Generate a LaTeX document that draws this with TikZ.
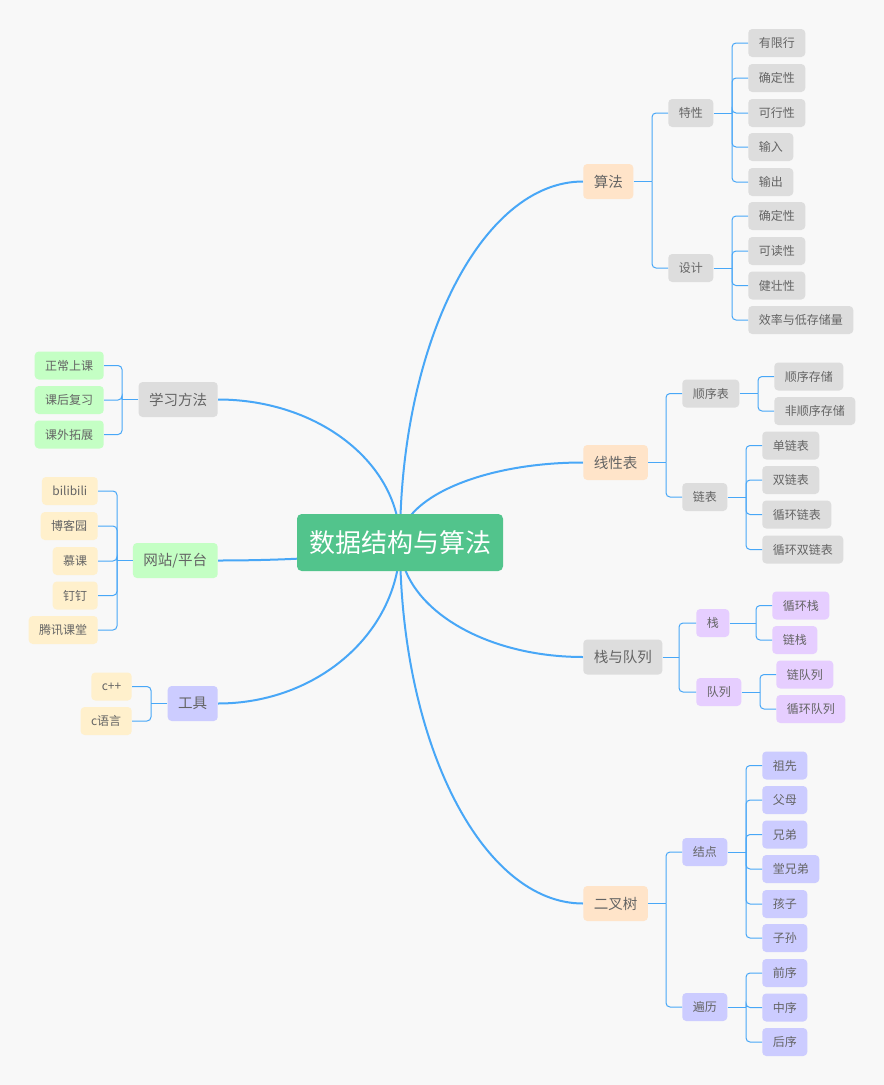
\documentclass[tikz,border=0pt]{standalone}
\usepackage{fontspec}
\setmainfont{Noto Sans CJK SC}
\definecolor{bgc}{RGB}{248,248,248}
\definecolor{rootg}{RGB}{82,196,140}
\definecolor{peach}{RGB}{255,228,201}
\definecolor{greyf}{RGB}{221,221,221}
\definecolor{lgreen}{RGB}{196,255,196}
\definecolor{cream}{RGB}{255,240,204}
\definecolor{lav}{RGB}{204,204,255}
\definecolor{purp}{RGB}{230,206,255}
\definecolor{lineb}{RGB}{72,167,247}
\definecolor{txt}{RGB}{100,100,100}
\pgfdeclarelayer{bglayer}
\pgfdeclarelayer{edges}
\pgfsetlayers{bglayer,edges,main}
\begin{document}
\begin{tikzpicture}[x=0.75pt,y=-0.75pt,
  base/.style={rectangle, rounded corners=3pt, inner xsep=7.875pt, inner ysep=0pt,
    text=txt, font=\fontsize{9}{10}\selectfont, minimum height=21pt},
  lone/.style={base, font=\fontsize{10.9}{12}\selectfont, minimum height=26.25pt},
  rootbox/.style={rectangle, rounded corners=3.5pt, fill=rootg, text=white,
    font=\fontsize{19.5}{22}\selectfont, inner xsep=9pt, inner ysep=0pt, minimum height=42.75pt},
  gbox/.style={fill=greyf}, pbox/.style={fill=peach}, lgbox/.style={fill=lgreen},
  cbox/.style={fill=cream}, lvbox/.style={fill=lav}, pubox/.style={fill=purp},
  main/.style={draw=lineb, line width=1.5pt},
  twig/.style={draw=lineb, line width=0.75pt, rounded corners=3pt}]
\begin{pgfonlayer}{bglayer}
\fill[bgc] (0,0) rectangle (884,1085);
\end{pgfonlayer}
\useasboundingbox (0,0) rectangle (884,1085);

% root
\node[rootbox] (root) at (400,542.5) {数据结构与算法};

% level 1
\node[lone, pbox, anchor=west] (suanfa) at (583,181.5) {算法};
\node[lone, pbox, anchor=west] (xianxing) at (583,462.5) {线性表};
\node[lone, gbox, anchor=west] (zhandui) at (583,657) {栈与队列};
\node[lone, pbox, anchor=west] (erchashu) at (583,903.5) {二叉树};
\node[lone, gbox, anchor=east] (xuexi) at (218,399.5) {学习方法};
\node[lone, lgbox, anchor=east] (wangzhan) at (218,560.5) {网站/平台};
\node[lone, lvbox, anchor=east] (gongju) at (218,703.5) {工具};

% main curves
\begin{pgfonlayer}{edges}
\draw[main] (root.center) .. controls (400,343.1) and (481.9,181.5) .. (suanfa.west);
\draw[main] (root.center) .. controls (400,498.3) and (481.9,462.5) .. (xianxing.west);
\draw[main] (root.center) .. controls (400,605.7) and (481.9,657) .. (zhandui.west);
\draw[main] (root.center) .. controls (400,741.9) and (481.9,903.5) .. (erchashu.west);
\draw[main] (root.center) .. controls (400,463.5) and (318.5,399.5) .. (xuexi.east);
\draw[main] (root.center) .. controls (400,552.4) and (318.5,560.5) .. (wangzhan.east);
\draw[main] (root.center) .. controls (400,631.4) and (318.5,703.5) .. (gongju.east);
\end{pgfonlayer}

% ---- 算法
\node[base, gbox, anchor=west] (texing) at (668,113) {特性};
\node[base, gbox, anchor=west] (sheji) at (668,268) {设计};
\node[base, gbox, anchor=west] (a1) at (748,43) {有限行};
\node[base, gbox, anchor=west] (a2) at (748,78) {确定性};
\node[base, gbox, anchor=west] (a3) at (748,113) {可行性};
\node[base, gbox, anchor=west] (a4) at (748,147) {输入};
\node[base, gbox, anchor=west] (a5) at (748,182) {输出};
\node[base, gbox, anchor=west] (b1) at (748,216) {确定性};
\node[base, gbox, anchor=west] (b2) at (748,251) {可读性};
\node[base, gbox, anchor=west] (b3) at (748,285.5) {健壮性};
\node[base, gbox, anchor=west] (b4) at (748,320) {效率与低存储量};
\coordinate (jS) at (652,181.5);
\coordinate (jT) at (732,113);
\coordinate (jD) at (732,268);
\draw[twig] (suanfa.east) -- (jS);
\foreach \n in {texing,sheji} \draw[twig] (jS) |- (\n.west);
\draw[twig] (texing.east) -- (jT);
\foreach \n in {a1,a2,a3,a4,a5} \draw[twig] (jT) |- (\n.west);
\draw[twig] (sheji.east) -- (jD);
\foreach \n in {b1,b2,b3,b4} \draw[twig] (jD) |- (\n.west);

% ---- 线性表
\node[base, gbox, anchor=west] (shunxu) at (682,393.5) {顺序表};
\node[base, gbox, anchor=west] (lianbiao) at (682,497) {链表};
\node[base, gbox, anchor=west] (c1) at (774,376.5) {顺序存储};
\node[base, gbox, anchor=west] (c2) at (774,411) {非顺序存储};
\node[base, gbox, anchor=west] (d1) at (762,445.5) {单链表};
\node[base, gbox, anchor=west] (d2) at (762,480) {双链表};
\node[base, gbox, anchor=west] (d3) at (762,514.5) {循环链表};
\node[base, gbox, anchor=west] (d4) at (762,549.5) {循环双链表};
\coordinate (jX) at (666,462.5);
\coordinate (jSX) at (758,393.5);
\coordinate (jLB) at (746,497);
\draw[twig] (xianxing.east) -- (jX);
\foreach \n in {shunxu,lianbiao} \draw[twig] (jX) |- (\n.west);
\draw[twig] (shunxu.east) -- (jSX);
\foreach \n in {c1,c2} \draw[twig] (jSX) |- (\n.west);
\draw[twig] (lianbiao.east) -- (jLB);
\foreach \n in {d1,d2,d3,d4} \draw[twig] (jLB) |- (\n.west);

% ---- 栈与队列
\node[base, pubox, anchor=west] (zhan) at (696,623) {栈};
\node[base, pubox, anchor=west] (duilie) at (696,692) {队列};
\node[base, pubox, anchor=west] (e1) at (772,605.5) {循环栈};
\node[base, pubox, anchor=west] (e2) at (772,640) {链栈};
\node[base, pubox, anchor=west] (f1) at (776,674.5) {链队列};
\node[base, pubox, anchor=west] (f2) at (776,709) {循环队列};
\coordinate (jZD) at (679,657);
\coordinate (jZ) at (756,623);
\coordinate (jDL) at (760,692);
\draw[twig] (zhandui.east) -- (jZD);
\foreach \n in {zhan,duilie} \draw[twig] (jZD) |- (\n.west);
\draw[twig] (zhan.east) -- (jZ);
\foreach \n in {e1,e2} \draw[twig] (jZ) |- (\n.west);
\draw[twig] (duilie.east) -- (jDL);
\foreach \n in {f1,f2} \draw[twig] (jDL) |- (\n.west);

% ---- 二叉树
\node[base, lvbox, anchor=west] (jiedian) at (682,852) {结点};
\node[base, lvbox, anchor=west] (bianli) at (682,1007) {遍历};
\node[base, lvbox, anchor=west] (g1) at (762,765.5) {祖先};
\node[base, lvbox, anchor=west] (g2) at (762,800) {父母};
\node[base, lvbox, anchor=west] (g3) at (762,834.5) {兄弟};
\node[base, lvbox, anchor=west] (g4) at (762,869) {堂兄弟};
\node[base, lvbox, anchor=west] (g5) at (762,904) {孩子};
\node[base, lvbox, anchor=west] (g6) at (762,938) {子孙};
\node[base, lvbox, anchor=west] (h1) at (762,973) {前序};
\node[base, lvbox, anchor=west] (h2) at (762,1007.5) {中序};
\node[base, lvbox, anchor=west] (h3) at (762,1042) {后序};
\coordinate (jE) at (666,903.5);
\coordinate (jJ) at (746,852);
\coordinate (jB) at (746,1007);
\draw[twig] (erchashu.east) -- (jE);
\foreach \n in {jiedian,bianli} \draw[twig] (jE) |- (\n.west);
\draw[twig] (jiedian.east) -- (jJ);
\foreach \n in {g1,g2,g3,g4,g5,g6} \draw[twig] (jJ) |- (\n.west);
\draw[twig] (bianli.east) -- (jB);
\foreach \n in {h1,h2,h3} \draw[twig] (jB) |- (\n.west);

% ---- 学习方法
\node[base, lgbox, anchor=east] (k1) at (104,365.5) {正常上课};
\node[base, lgbox, anchor=east] (k2) at (104,400) {课后复习};
\node[base, lgbox, anchor=east] (k3) at (104,434.5) {课外拓展};
\coordinate (jK) at (122,399.5);
\draw[twig] (xuexi.west) -- (jK);
\foreach \n in {k1,k2,k3} \draw[twig] (jK) |- (\n.east);

% ---- 网站/平台
\node[base, cbox, anchor=east] (w1) at (98,491) {bilibili};
\node[base, cbox, anchor=east] (w2) at (98,526) {博客园};
\node[base, cbox, anchor=east] (w3) at (98,561) {慕课};
\node[base, cbox, anchor=east] (w4) at (98,595.5) {钉钉};
\node[base, cbox, anchor=east] (w5) at (98,630) {腾讯课堂};
\coordinate (jW) at (117,560.5);
\draw[twig] (wangzhan.west) -- (jW);
\foreach \n in {w1,w2,w3,w4,w5} \draw[twig] (jW) |- (\n.east);

% ---- 工具
\node[base, cbox, anchor=east] (t1) at (132,686.5) {c++};
\node[base, cbox, anchor=east] (t2) at (132,721) {c语言};
\coordinate (jG) at (151,703.5);
\draw[twig] (gongju.west) -- (jG);
\foreach \n in {t1,t2} \draw[twig] (jG) |- (\n.east);
\end{tikzpicture}
\end{document}
